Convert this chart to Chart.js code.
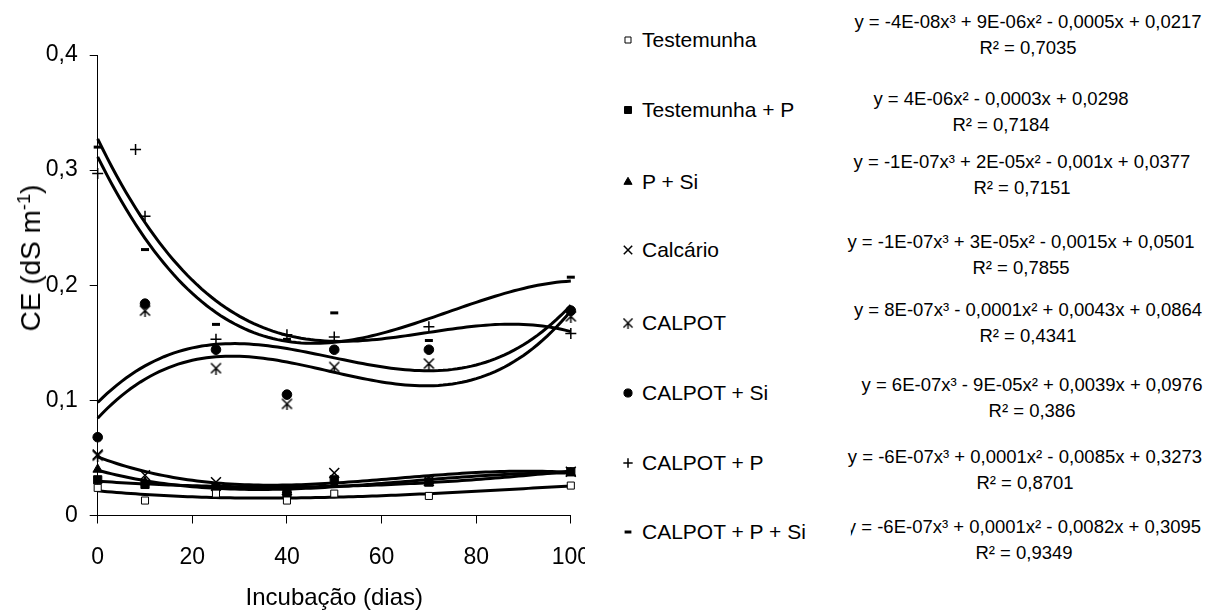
<!DOCTYPE html>
<html>
<head>
<meta charset="utf-8">
<script src="https://cdn.jsdelivr.net/npm/chart.js@4.4.1/dist/chart.umd.min.js"></script>
<style>
  html, body { margin: 0; padding: 0; background: #fff; }
  body { width: 1209px; height: 613px; position: relative; overflow: hidden;
         font-family: Arial, "Liberation Sans", sans-serif; color: #000; }
  #chartClip { position: absolute; left: 0; top: 0; width: 585px; height: 613px; overflow: hidden; }
  #chartBox { position: relative; width: 610px; height: 613px; }
  #yTitle { position: absolute; left: 31px; top: 258px; font-size: 28px; line-height: 32px;
            white-space: nowrap; transform: translate(-50%, -50%) rotate(-90deg); }
  #yTitle sup { font-size: 0.65em; line-height: 0; }
  .leg { position: absolute; left: 620px; height: 26px; line-height: 26px; font-size: 21px; white-space: nowrap; }
  .leg canvas { position: absolute; left: 0; top: 5px; }
  .leg span { position: absolute; left: 22px; top: 0; }
  .eq { position: absolute; font-size: 18.5px; line-height: 26px; text-align: center;
        white-space: nowrap; transform: translateX(-50%); }
</style>
</head>
<body>
<div id="chartClip"><div id="chartBox"><canvas id="ceChart"></canvas></div></div>
<div id="yTitle">CE (dS m<sup>-1</sup>)</div>
<div id="legend"></div>
<script>
const FONT = 'Arial, "Liberation Sans", sans-serif';

// sampling days (incubation)
const days = [0, 10, 25, 40, 50, 70, 100];
const daysCalpotP = [0, 8, 10, 25, 40, 50, 70, 100];

// CE values, dS m-1
const testemunha  = [0.024, 0.013, 0.019, 0.013, 0.019, 0.017, 0.026];
const testemunhaP = [0.031, 0.027, 0.025, 0.019, 0.031, 0.029, 0.038];
const pSi         = [0.040, 0.029, 0.024, 0.022, 0.027, 0.030, 0.037];
const calcario    = [0.053, 0.035, 0.029, 0.022, 0.037, 0.030, 0.038];
const calpot      = [0.052, 0.178, 0.128, 0.097, 0.129, 0.132, 0.173];
const calpotSi    = [0.068, 0.184, 0.144, 0.105, 0.144, 0.144, 0.178];
const calpotP     = [0.297, 0.318, 0.260, 0.153, 0.157, 0.155, 0.164, 0.158];
const calpotPSi   = [0.320, 0.231, 0.166, 0.153, 0.176, 0.152, 0.207];

const seriesNames = ['Testemunha', 'Testemunha + P', 'P + Si', 'Calcário',
                     'CALPOT', 'CALPOT + Si', 'CALPOT + P', 'CALPOT + P + Si'];

const equations = [
  'y = -4E-08x³ + 9E-06x² - 0,0005x + 0,0217',
  'y = 4E-06x² - 0,0003x + 0,0298',
  'y = -1E-07x³ + 2E-05x² - 0,001x + 0,0377',
  'y = -1E-07x³ + 3E-05x² - 0,0015x + 0,0501',
  'y = 8E-07x³ - 0,0001x² + 0,0043x + 0,0864',
  'y = 6E-07x³ - 9E-05x² + 0,0039x + 0,0976',
  'y = -6E-07x³ + 0,0001x² - 0,0085x + 0,3273',
  'y = -6E-07x³ + 0,0001x² - 0,0082x + 0,3095'
];
const r2Labels = ['R² = 0,7035', 'R² = 0,7184', 'R² = 0,7151', 'R² = 0,7855',
                  'R² = 0,4341', 'R² = 0,386', 'R² = 0,8701', 'R² = 0,9349'];
const fitDegree = [3, 2, 3, 3, 3, 3, 3, 3];

const xTicks = [0, 20, 40, 60, 80, 100];
const yTicks = [0, 0.1, 0.2, 0.3, 0.4];

// asterisk marker: an x with a vertical stroke
function asterisk(size) {
  const c = document.createElement('canvas');
  c.width = c.height = size;
  const g = c.getContext('2d');
  const m = size / 2, a = size / 2 - 1.5;
  g.strokeStyle = '#000';
  g.lineWidth = 1.5;
  g.beginPath();
  g.moveTo(m - a, m - a); g.lineTo(m + a, m + a);
  g.moveTo(m + a, m - a); g.lineTo(m - a, m + a);
  g.moveTo(m, m); g.lineTo(m, size);
  g.stroke();
  return c;
}

const markers = [
  { pointStyle: 'rect', radius: 5, bg: '#fff', bw: 1 },
  { pointStyle: 'rect', radius: 5.8, bg: '#000', bw: 1 },
  { pointStyle: 'triangle', radius: 5.5, bg: '#000', bw: 1 },
  { pointStyle: 'crossRot', radius: 7, bg: '#000', bw: 1.5 },
  { pointStyle: asterisk(13), radius: 6, bg: '#000', bw: 1.5 },
  { pointStyle: 'circle', radius: 4.8, bg: '#000', bw: 1 },
  { pointStyle: 'cross', radius: 5.5, bg: '#000', bw: 1.5 },
  { pointStyle: 'line', radius: 4, bg: '#000', bw: 3 }
];

const xsList = [days, days, days, days, days, days, daysCalpotP, days];
const ysList = [testemunha, testemunhaP, pSi, calcario, calpot, calpotSi, calpotP, calpotPSi];

// least squares polynomial, x scaled to 0..1 for stability
function polyFit(xs, ys, deg) {
  const n = deg + 1;
  const A = Array.from({ length: n }, () => new Array(n + 1).fill(0));
  xs.forEach((x0, k) => {
    const x = x0 / 100;
    for (let i = 0; i < n; i++) {
      for (let j = 0; j < n; j++) A[i][j] += Math.pow(x, i + j);
      A[i][n] += ys[k] * Math.pow(x, i);
    }
  });
  for (let c = 0; c < n; c++) {
    let p = c;
    for (let r = c + 1; r < n; r++) if (Math.abs(A[r][c]) > Math.abs(A[p][c])) p = r;
    [A[c], A[p]] = [A[p], A[c]];
    for (let r = 0; r < n; r++) {
      if (r === c) continue;
      const f = A[r][c] / A[c][c];
      for (let k = c; k <= n; k++) A[r][k] -= f * A[c][k];
    }
  }
  return A.map((row, i) => row[n] / row[i]);
}

const trendDatasets = [];
const pointDatasets = [];
ysList.forEach((ys, s) => {
  const xs = xsList[s];
  const coef = polyFit(xs, ys, fitDegree[s]);
  const curve = [];
  for (let d = 0; d <= 100; d++) {
    const t = d / 100;
    curve.push({ x: d, y: coef.reduce((acc, c, i) => acc + c * Math.pow(t, i), 0) });
  }
  trendDatasets.push({
    label: seriesNames[s] + ' (tendência)',
    data: curve,
    showLine: true,
    borderColor: '#000',
    borderWidth: 3,
    pointRadius: 0,
    tension: 0,
    clip: false
  });
  const mk = markers[s];
  pointDatasets.push({
    label: seriesNames[s],
    data: xs.map((x, i) => ({ x, y: ys[i] })),
    showLine: false,
    pointStyle: mk.pointStyle,
    pointRadius: mk.radius,
    pointBackgroundColor: mk.bg,
    pointBorderColor: '#000',
    pointBorderWidth: mk.bw,
    clip: false
  });
});

new Chart(document.getElementById('ceChart'), {
  type: 'scatter',
  data: { datasets: [...pointDatasets, ...trendDatasets] },
  options: {
    responsive: true,
    maintainAspectRatio: false,
    animation: false,
    layout: { padding: { top: 55, right: 39, bottom: 0, left: 0 } },
    plugins: { legend: { display: false }, tooltip: { enabled: false } },
    scales: {
      x: {
        type: 'linear',
        min: 0,
        max: 100,
        afterBuildTicks: (axis) => { axis.ticks = xTicks.map((v) => ({ value: v })); },
        afterFit: (axis) => { axis.height = 97.5; },
        grid: { drawOnChartArea: false, drawTicks: true, tickLength: 8, color: '#000', lineWidth: 1 },
        border: { color: '#000', width: 1 },
        ticks: { color: '#000', font: { family: FONT, size: 23 }, padding: 20, maxRotation: 0 },
        title: {
          display: true,
          text: 'Incubação (dias)',
          color: '#000',
          font: { family: FONT, size: 24 },
          padding: { top: 0, bottom: 0 }
        }
      },
      y: {
        min: 0,
        max: 0.4,
        afterBuildTicks: (axis) => { axis.ticks = yTicks.map((v) => ({ value: v })); },
        afterFit: (axis) => { axis.width = 97.7; },
        grid: { drawOnChartArea: false, drawTicks: true, tickLength: 8, color: '#000', lineWidth: 1 },
        border: { color: '#000', width: 1 },
        ticks: {
          color: '#000',
          font: { family: FONT, size: 23 },
          padding: 12,
          callback: (v) => (v === 0 ? '0' : v.toFixed(1).replace('.', ','))
        },
        title: { display: false }
      }
    }
  }
});

// legend and fitted equations beside the plot
const legendY = [40, 110, 182, 250, 323, 393, 463, 532];
const eqY = [9, 86, 149, 229, 297, 372, 444, 514];
const eqX = [1028, 1001, 1022, 1021, 1028, 1032, 1025, 1024];
const eqClipLeft = [0, 0, 0, 0, 0, 0, 0, 4];
const legendEl = document.getElementById('legend');

seriesNames.forEach((name, s) => {
  const row = document.createElement('div');
  row.className = 'leg';
  row.style.top = (legendY[s] - 13) + 'px';
  const c = document.createElement('canvas');
  c.width = 16; c.height = 16;
  const g = c.getContext('2d');
  const mk = markers[s];
  g.fillStyle = mk.bg;
  g.strokeStyle = '#000';
  g.lineWidth = mk.bw;
  if (typeof mk.pointStyle === 'object') {
    g.drawImage(mk.pointStyle, 8 - 6, 8 - 6, 12, 12);
  } else if (Chart.helpers && Chart.helpers.drawPoint) {
    Chart.helpers.drawPoint(g, { pointStyle: mk.pointStyle, radius: mk.radius * 0.85, borderWidth: mk.bw, rotation: 0 }, 8, 8);
  }
  row.appendChild(c);
  const sp = document.createElement('span');
  sp.textContent = name;
  row.appendChild(sp);
  legendEl.appendChild(row);

  const eq = document.createElement('div');
  eq.className = 'eq';
  eq.style.top = eqY[s] + 'px';
  eq.style.left = eqX[s] + 'px';
  if (eqClipLeft[s]) eq.style.clipPath = 'inset(0 0 0 ' + eqClipLeft[s] + 'px)';
  eq.innerHTML = equations[s] + '<br>' + r2Labels[s];
  legendEl.appendChild(eq);
});
</script>
</body>
</html>
